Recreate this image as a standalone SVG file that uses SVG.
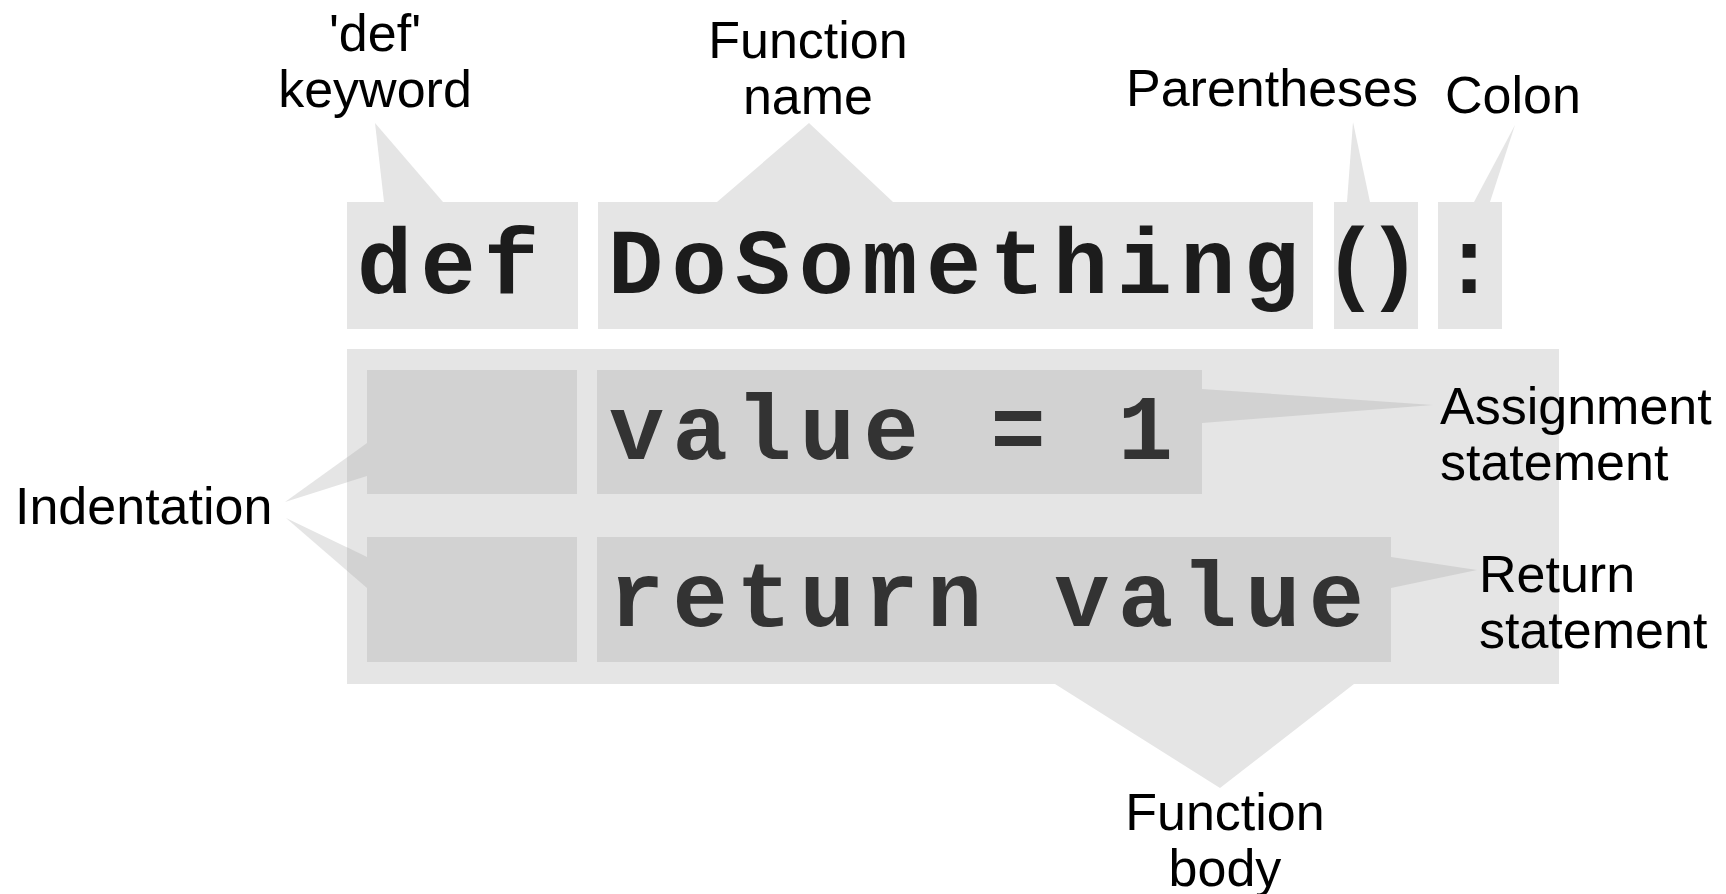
<svg xmlns="http://www.w3.org/2000/svg" width="1726" height="894" viewBox="0 0 1726 894">
<style>
.lbl{font-family:"Liberation Sans",Arial,sans-serif;font-size:52px;fill:#000}
.code{font-family:"Liberation Mono","Courier New",monospace;font-weight:bold;font-size:92px}
.ch{font-family:"Liberation Mono","Courier New",monospace;font-weight:bold;font-size:92px;text-anchor:middle}
.top{fill:#1c1c1c}
.body{fill:#333333}
.light{fill:#e5e5e5}
.dark{fill:#d2d2d2}
</style>
<defs>
<clipPath id="bodyClip"><rect x="347" y="349" width="1212" height="335"/></clipPath>
</defs>
<rect width="1726" height="894" fill="#fff"/>

<g id="function-body-box">
<rect class="light" x="347" y="349" width="1212" height="335"/>
</g>
<g id="indent-1"><rect class="dark" x="367" y="370" width="210" height="124"/></g>
<g id="indent-2"><rect class="dark" x="367" y="537" width="210" height="125"/></g>

<g id="connectors">
<polygon class="light" points="375,123 384,202 443,202"/>
<polygon class="light" points="809,123 717,202 893,202"/>
<polygon class="light" points="1353,122 1347,202 1370,202"/>
<polygon class="light" points="1515,125 1474,202 1490,202"/>
<polygon class="light" points="1055,684 1354,684 1220,788"/>
<polygon class="light" points="285,502 367,443 367,476"/>
<polygon class="light" points="286,518 367,557 367,588"/>
<g clip-path="url(#bodyClip)">
<polygon class="dark" points="285,502 367,443 367,476"/>
<polygon class="dark" points="286,518 367,557 367,588"/>
</g>
<polygon class="dark" points="1202,389 1202,423 1433,405"/>
<polygon class="dark" points="1391,557 1391,588 1477,570"/>
</g>

<g id="def-keyword">
<rect class="light" x="347" y="202" width="231" height="127"/>
<text class="code top" x="357" y="293" textLength="182" lengthAdjust="spacing">def</text>
</g>
<g id="function-name">
<rect class="light" x="598" y="202" width="715" height="127"/>
<text class="code top" x="608" y="293" textLength="691" lengthAdjust="spacing">DoSomething</text>
</g>
<g id="parentheses">
<rect class="light" x="1334" y="202" width="84" height="127"/>
<text class="code top" x="1323" y="293" textLength="99" lengthAdjust="spacing">()</text>
</g>
<g id="colon">
<rect class="light" x="1438" y="202" width="64" height="127"/>
<text class="ch top" x="1469" y="293">:</text>
</g>
<g id="assignment-statement">
<rect class="dark" x="597" y="370" width="605" height="124"/>
<text class="code body" x="609" y="459" textLength="564" lengthAdjust="spacing">value = 1</text>
</g>
<g id="return-statement">
<rect class="dark" x="597" y="537" width="794" height="125"/>
<text class="code body" x="609" y="626" textLength="755" lengthAdjust="spacing">return value</text>
</g>

<g id="label-def"><text class="lbl" x="375" y="51" text-anchor="middle">'def'</text><text class="lbl" x="375" y="107" text-anchor="middle">keyword</text></g>
<g id="label-function-name"><text class="lbl" x="808" y="58" text-anchor="middle">Function</text><text class="lbl" x="808" y="114" text-anchor="middle">name</text></g>
<g id="label-parentheses"><text class="lbl" x="1126" y="106">Parentheses</text></g>
<g id="label-colon"><text class="lbl" x="1445" y="113">Colon</text></g>
<g id="label-indentation"><text class="lbl" x="15" y="524">Indentation</text></g>
<g id="label-assignment"><text class="lbl" x="1440" y="424">Assignment</text><text class="lbl" x="1440" y="480">statement</text></g>
<g id="label-return"><text class="lbl" x="1479" y="592">Return</text><text class="lbl" x="1479" y="648">statement</text></g>
<g id="label-function-body"><text class="lbl" x="1225" y="830" text-anchor="middle">Function</text><text class="lbl" x="1225" y="886" text-anchor="middle">body</text></g>
</svg>
